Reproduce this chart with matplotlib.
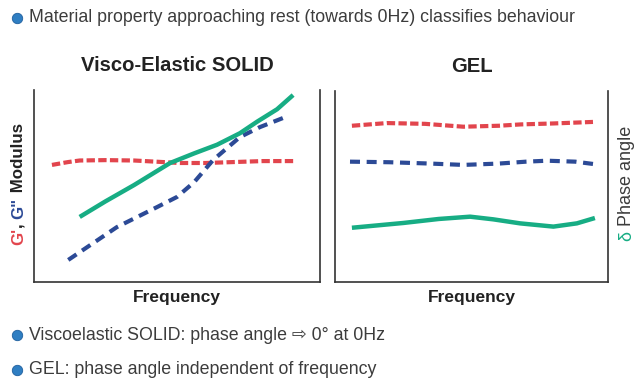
import matplotlib
matplotlib.use('Agg')
import matplotlib.pyplot as plt
from matplotlib.lines import Line2D

plt.rcParams['font.family'] = ['Liberation Sans', 'DejaVu Sans']

RED = '#e2454d'
BLUE = '#2c4a96'
GREEN = '#17ad84'
DARK = '#222222'
TEXT = '#3c3c3c'
BULLET = '#2f7ec2'

# Visco-elastic solid panel
solid_red_x = [0.63, 1.2, 1.6, 2.5, 3.5, 4.5, 5.1, 6.0, 7.0, 8.0, 9.1]
solid_red_y = [6.1, 6.25, 6.33, 6.35, 6.33, 6.25, 6.2, 6.2, 6.25, 6.3, 6.3]
solid_blue_x = [1.2, 2.9, 4.3, 5.0, 5.6, 6.26, 7.2, 7.9, 8.7]
solid_blue_y = [1.15, 2.86, 3.9, 4.43, 5.2, 6.35, 7.55, 8.07, 8.54]
solid_green_x = [1.6, 2.5, 3.5, 4.76, 5.6, 6.4, 7.2, 7.8, 8.5, 9.06]
solid_green_y = [3.39, 4.2, 5.05, 6.2, 6.7, 7.15, 7.75, 8.35, 9.0, 9.74]

# Gel panel
gel_red_x = [0.62, 1.9, 3.3, 4.7, 6.0, 6.8, 8.0, 9.45]
gel_red_y = [8.18, 8.32, 8.28, 8.13, 8.18, 8.25, 8.3, 8.38]
gel_blue_x = [0.55, 2.0, 3.5, 4.7, 6.0, 7.0, 7.77, 8.8, 9.45]
gel_blue_y = [6.3, 6.27, 6.2, 6.13, 6.2, 6.3, 6.35, 6.3, 6.18]
gel_green_x = [0.62, 2.5, 3.8, 4.95, 5.8, 6.78, 8.0, 8.86, 9.52]
gel_green_y = [2.84, 3.09, 3.3, 3.42, 3.28, 3.07, 2.9, 3.07, 3.35]

titles = ['Visco-Elastic SOLID', 'GEL']
bullets = ['Material property approaching rest (towards 0Hz) classifies behaviour',
           'Viscoelastic SOLID: phase angle \u21e8 0\u00b0 at 0Hz',
           'GEL: phase angle independent of frequency']


def style_axes(ax, title):
    ax.set_xlim(0, 10)
    ax.set_ylim(0, 10)
    ax.set_xticks([])
    ax.set_yticks([])
    ax.spines['top'].set_visible(False)
    for s in ['left', 'right', 'bottom']:
        ax.spines[s].set_color('#333333')
        ax.spines[s].set_linewidth(1.2)
    ax.set_title(title, fontsize=14.6, fontweight='bold', color=DARK, pad=14)
    ax.set_xlabel('Frequency', fontsize=12.5, fontweight='bold', color=DARK,
                  labelpad=6)


def draw(ax, rx, ry, bx, by, gx, gy):
    ax.plot(rx, ry, color=RED, lw=3, dashes=(2.0, 0.8), dash_capstyle='butt')
    ax.plot(bx, by, color=BLUE, lw=3, dashes=(2.4, 1.6), dash_capstyle='butt')
    ax.plot(gx, gy, color=GREEN, lw=3.2, solid_joinstyle='round',
            solid_capstyle='butt')


def stacked_label(fig, ax, x, y, parts, **kw):
    # rotated text pieces placed end to end, bottom to top
    t = fig.text(x, y, parts[0][0], color=parts[0][1], rotation=90,
                 ha='center', va='bottom', **kw)
    for s, c in parts[1:]:
        t = ax.annotate(s, xy=(0.5, 1), xycoords=t, color=c, rotation=90,
                        ha='center', va='bottom', annotation_clip=False, **kw)
    return t


fig = plt.figure(figsize=(6.4, 3.87), dpi=100)
ax1 = fig.add_axes([0.053, 0.2713, 0.447, 0.496])
ax2 = fig.add_axes([0.5234, 0.2713, 0.4266, 0.4936])

draw(ax1, solid_red_x, solid_red_y, solid_blue_x, solid_blue_y,
     solid_green_x, solid_green_y)
draw(ax2, gel_red_x, gel_red_y, gel_blue_x, gel_blue_y,
     gel_green_x, gel_green_y)
style_axes(ax1, titles[0])
style_axes(ax2, titles[1])

stacked_label(fig, ax1, 18.5 / 640, 1 - 245 / 387,
              [("G'", RED), (', ', DARK), ('G"', BLUE), (' Modulus', DARK)],
              fontsize=12.2, fontweight='bold')
stacked_label(fig, ax1, 626.5 / 640, 1 - 241 / 387,
              [('\u03b4', GREEN), (' Phase angle', TEXT)],
              fontsize=13)

for txt, yp in zip(bullets, [18, 335, 370]):
    yf = 1 - yp / 387
    fig.add_artist(Line2D([17 / 640], [yf], marker='o', markersize=7.5,
                          color=BULLET, markeredgecolor='#1f5f9e',
                          markeredgewidth=0.6, transform=fig.transFigure))
    fig.text(29 / 640, yf, txt, fontsize=12.8, color=TEXT, va='center',
             ha='left')

fig.savefig('out.png', dpi=100)
